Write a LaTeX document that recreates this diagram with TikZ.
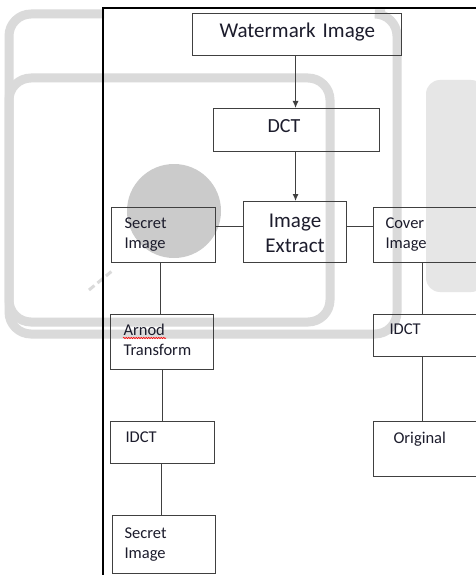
\documentclass[tikz,border=0pt]{standalone}
\usepackage{fontspec}
\setmainfont{Carlito}
\usetikzlibrary{arrows.meta,decorations.pathmorphing}
\definecolor{boxline}{HTML}{404040}
\definecolor{inkblue}{HTML}{1C1C2C}
\definecolor{wmgrey}{HTML}{DADADA}
\definecolor{wmdisc}{HTML}{CBCBCB}
\definecolor{wmpale}{HTML}{E6E6E6}
\begin{document}
\begin{tikzpicture}[x=1pt, y=-1pt,
    box/.style={draw=boxline, line width=1.1pt, anchor=north west, inner ysep=0pt,
        align=left, text=inkblue},
    big/.style={font=\fontsize{21}{25}\selectfont},
    small/.style={font=\fontsize{16.5}{19.5}\selectfont},
    link/.style={draw=boxline, line width=1.1pt},
    arr/.style={link, -{Latex[length=7pt,width=6pt]}}]
    \useasboundingbox (0,0) rectangle (475,575);
    \fill[white] (0,0) rectangle (475,575);
    % faint watermark behind the chart
    \begin{scope}
        \draw[wmgrey, line width=9pt, rounded corners=22pt]
            (104,14) -- (9,14) -- (9,334) -- (397,334) -- (397,14) -- (385,14);
        \draw[wmgrey, line width=9pt, rounded corners=22pt] (9,78) rectangle (330,322);
        \fill[wmpale, rounded corners=14pt] (426,80) rectangle (485,292);
        \fill[wmdisc] (174,211) circle (47);
        \draw[wmgrey, line width=3pt, dash pattern=on 7pt off 4pt] (89,290) -- (112,271);
    \end{scope}
    % frame
    \draw[line width=1.6pt] (103,580) -- (103,8) -- (480,8);
    % top chain
    \node[box, big, inner xsep=27pt, text width=155pt, text height=24pt, text depth=18pt]
        (wm) at (192,13) {\mbox{Watermark Image}};
    \node[box, font=\fontsize{20}{24}\selectfont, inner xsep=54pt, text width=58pt,
        text height=24pt, text depth=19pt] (dct) at (213,108) {DCT};
    \node[box, big, align=center, inner xsep=4pt, text width=95pt, text height=26pt,
        text depth=35pt] (extract) at (243,201) {Image\\Extract};
    % left branch
    \node[box, small, inner xsep=13pt, text width=78pt, text height=21pt, text depth=34pt]
        (secret) at (111,207) {Secret\\Image};
    \node[box, small, inner xsep=13pt, text width=77pt, text height=21pt, text depth=34pt]
        (arnod) at (110,314) {Arnod\\Transform};
    \node[box, small, inner xsep=15pt, text width=74pt, text height=21pt, text depth=21pt]
        (idctL) at (110,421) {IDCT};
    \node[box, small, inner xsep=12pt, text width=79pt, text height=23pt, text depth=35pt]
        (secretB) at (112,515) {Secret\\Image};
    % right branch
    \node[box, small, inner xsep=12pt, text width=83pt, text height=21pt, text depth=34pt]
        (cover) at (373,207) {Cover\\Image};
    \node[box, small, inner xsep=16pt, text width=75pt, text height=20pt, text depth=22pt]
        (idctR) at (373,314) {IDCT};
    \node[box, small, inner xsep=20pt, text width=67pt, text height=22pt, text depth=33pt]
        (original) at (373,421) {Original};
    % spell-check mark
    \draw[red, line width=0.6pt, decorate, decoration={snake, amplitude=0.7pt, segment length=2.5pt}]
        ([shift={(13pt,-24pt)}]arnod.north west) -- ++(43,0);
    % connectors
    \draw[arr] ([xshift=-1pt]dct.north |- wm.south) -- ([xshift=-1pt]dct.north);
    \draw[arr] ([xshift=-1pt]dct.south) -- ([xshift=-1pt]dct.south |- extract.north);
    \draw[link] ([yshift=8.5pt]secret.east) -- ([yshift=8.5pt]secret.east -| extract.west);
    \draw[link] ([yshift=5.5pt]extract.east) -- ([yshift=5.5pt]extract.east -| cover.west);
    \draw[link] ([xshift=-1.5pt]arnod.north |- secret.south) -- ([xshift=-1.5pt]arnod.north);
    \draw[link] (arnod.south) -- (arnod.south |- idctL.north);
    \draw[link] ([xshift=-1pt]idctL.south) -- ([xshift=-1pt]idctL.south |- secretB.north);
    \draw[link] ([xshift=-4.5pt]cover.south) -- ([xshift=-4.5pt]idctR.north);
    \draw[link] ([xshift=-4.5pt]idctR.south) -- ([xshift=-4.5pt]original.north);
\end{tikzpicture}
\end{document}
